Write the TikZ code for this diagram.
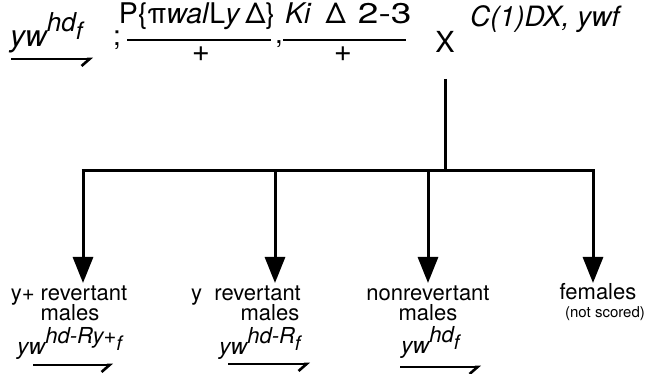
\documentclass[tikz,border=0pt]{standalone}
\usepackage{fontspec}
\setmainfont{TeX Gyre Heros}
\usetikzlibrary{arrows.meta}
\newcommand\fs[1]{\fontsize{#1}{#1}\selectfont}
\begin{document}
\begin{tikzpicture}[x=1pt,y=-1pt,
  txt/.style={inner sep=0pt, anchor=base},
  lbl/.style={inner sep=0pt, anchor=base, font=\fs{22}},
  sml/.style={inner sep=0pt, anchor=base, font=\fs{15}},
  wire/.style={line width=3pt},
  drop/.style={line width=3pt, -{Triangle[length=26pt,width=20pt]}},
  harp/.style={line width=2.6pt, -{Straight Barb[harpoon,swap,length=8pt,width=14pt,line width=2.6pt]}},
  frac/.style={line width=2.6pt}]
\path[use as bounding box] (0,0) rectangle (649,374);
% top genotypes
\node[txt, anchor=base west] (g0) at (10,47) {\fs{30}\itshape yw\raisebox{15pt}{\fs{26}hd\raisebox{-8pt}{\fs{24}f}}};
\coordinate (g0a) at (11,59);
\coordinate (g0b) at (93,59);
\draw[harp] (g0a) -- (g0b);
\node[txt] (semi) at (117,46) {\fs{28};};
\node[txt] (n1) at (197,24) {\fs{28.5}P\{π\textit{wal}L\textit{y}\,Δ\}};
\coordinate (r1a) at (127,40);
\coordinate (r1b) at (271,40);
\draw[frac] (r1a) -- (r1b);
\node[txt] (d1) at (201,62) {\fs{31}+};
\node[txt] (comma) at (279,44) {\fs{28},};
\node[txt, anchor=base west] (n2) at (285,24) {\fs{28.5}\textit{Ki}\hspace{14pt}Δ\hspace{12pt}\scalebox{1.3}[1]{2-3}};
\coordinate (r2a) at (283,40);
\coordinate (r2b) at (406,40);
\draw[frac] (r2a) -- (r2b);
\node[txt] (d2) at (343,62) {\fs{31}+};
\node[txt] (x) at (445,53) {\fs{29}X};
\node[txt, anchor=base west] (c1) at (470,27) {\fs{28}\itshape C(1)DX, ywf};
% tree
\coordinate (top) at (445,79);
\coordinate (j) at (445,171);
\coordinate (h1) at (83,171);
\coordinate (h2) at (275,171);
\coordinate (h3) at (428,171);
\coordinate (h4) at (593,171);
\coordinate (t1) at (83,283);
\coordinate (t2) at (275,283);
\coordinate (t3) at (428,283);
\coordinate (t4) at (593,283);
\draw[wire] (top) -- (j);
\draw[wire] ([xshift=-1.5pt]h1) -- ([xshift=1.5pt]h4);
\draw[drop] (h1) -- (t1);
\draw[drop] (h2) -- (t2);
\draw[drop] (h3) -- (t3);
\draw[drop] (h4) -- (t4);
% labels
\node[lbl] (l1a) at (69,301) {y+ revertant};
\node[lbl] (l1b) at (70,321) {males};
\node[lbl] (l2a) at (246,301) {y\ \ revertant};
\node[lbl] (l2b) at (270,321) {males};
\node[lbl] (l3a) at (428,301) {nonrevertant};
\node[lbl] (l3b) at (428,321) {males};
\node[lbl] (l4a) at (598,300) {females};
\node[sml] (l4b) at (605,318) {(not scored)};
% bottom genotypes
\node[txt, anchor=base west] (b1) at (17,355) {\fs{23}\itshape yw\raisebox{11pt}{\fs{22}hd-Ry+\raisebox{-7pt}{\fs{20}f}}};
\draw[harp] (33,365) -- (113,365);
\node[txt, anchor=base west] (b2) at (219,355) {\fs{23}\itshape yw\raisebox{11pt}{\fs{22}hd-R\raisebox{-7pt}{\fs{20}f}}};
\draw[harp] (228,364) -- (310,364);
\node[txt, anchor=base west] (b3) at (401,354) {\fs{23}\itshape yw\raisebox{11pt}{\fs{22}hd\raisebox{-7pt}{\fs{20}f}}};
\draw[harp] (400,367) -- (481,367);
\end{tikzpicture}
\end{document}
